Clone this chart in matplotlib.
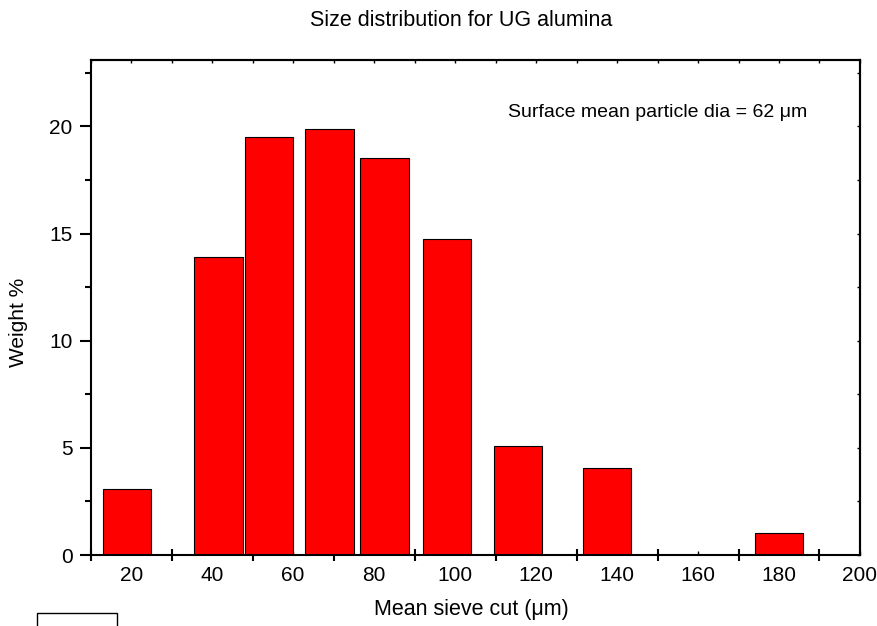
import matplotlib
matplotlib.use("Agg")
import matplotlib.pyplot as plt
from matplotlib.patches import Rectangle
import numpy as np

plt.rcParams['font.family'] = ['Liberation Sans', 'DejaVu Sans']

# mean sieve cut (um) and weight %
sieve_cut = [19, 41.6, 54, 69, 82.5, 98, 115.5, 137.5, 180]
weight_pct = [3.1, 13.9, 19.5, 19.86, 18.54, 14.75, 5.09, 4.05, 1.01]
bar_width = 12

x_labels = [20, 40, 60, 80, 100, 120, 140, 160, 180, 200]
y_ticks = [0, 5, 10, 15, 20]

fig = plt.figure(figsize=(8.77, 6.26), dpi=100)
ax = fig.add_axes([0.1034, 0.1134, 0.8772, 0.7907])

ax.bar(sieve_cut, weight_pct, width=bar_width, color='#ff0000',
       edgecolor='black', linewidth=0.8, zorder=2)

ax.set_xlim(10, 200)
ax.set_ylim(0, 23.1)

for s in ax.spines.values():
    s.set_linewidth(1.5)

# bottom: labels at 20,40,.. with tiny inward ticks, crossing ticks at 30,50,..
ax.set_xticks(x_labels)
ax.set_xticklabels([str(v) for v in x_labels])
ax.set_xticks(np.arange(10, 200, 20), minor=True)
ax.tick_params(axis='x', which='major', direction='in', length=3, width=1,
               labelsize=15, pad=8)
ax.tick_params(axis='x', which='minor', direction='inout', length=8, width=1.5)

ax.set_yticks(y_ticks)
ax.set_yticks(np.arange(2.5, 23, 5), minor=True)
ax.tick_params(axis='y', which='major', direction='out', length=8, width=1.5,
               labelsize=15, pad=5)
ax.tick_params(axis='y', which='minor', direction='out', length=4, width=1.5)

top = ax.secondary_xaxis('top')
top.set_xticks(np.arange(10, 201, 10))
top.tick_params(direction='in', length=2.5, width=1, labeltop=False)
top.spines['top'].set_linewidth(1.5)

right = ax.secondary_yaxis('right')
right.set_yticks(np.arange(0, 23, 2.5))
right.tick_params(direction='in', length=2.5, width=1, labelright=False)
right.spines['right'].set_linewidth(1.5)

ax.set_xlabel('Mean sieve cut (\u03bcm)', fontsize=15.5)
ax.xaxis.set_label_coords(0.495, -0.088)
ax.set_ylabel('Weight %', fontsize=15)
ax.yaxis.set_label_coords(-0.0815, 0.469)

ax.text((508 - 90.7) / 769.3, 0.893, 'Surface mean particle dia = 62 \u03bcm',
        transform=ax.transAxes, fontsize=14, va='center', ha='left')

fig.text(461 / 877, 1 - 20 / 626, 'Size distribution for UG alumina',
         fontsize=15.5, ha='center', va='center')

# empty frame at bottom-left corner
fig.patches.append(Rectangle((37 / 877, -0.05), 80 / 877, 0.05 + 13 / 626,
                             transform=fig.transFigure, fill=False,
                             edgecolor='black', linewidth=1.0))

fig.savefig('out.png', dpi=100)
